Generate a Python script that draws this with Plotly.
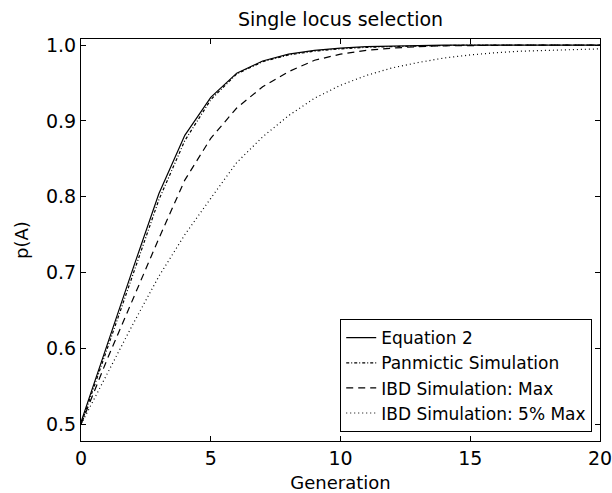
import plotly.graph_objects as go

generations = list(range(21))
equation2 = [0.503, 0.605, 0.705, 0.804, 0.881, 0.931, 0.963, 0.979, 0.988, 0.993,
             0.996, 0.998, 0.999, 0.9995, 1.0, 1.0, 1.0, 1.0, 1.0, 1.0, 1.0]
panmictic = [0.5, 0.598, 0.697, 0.796, 0.874, 0.928, 0.962, 0.978, 0.987, 0.992,
             0.995, 0.997, 0.998, 0.999, 0.9995, 1.0, 1.0, 1.0, 1.0, 1.0, 1.0]
ibd_max = [0.5, 0.585, 0.665, 0.745, 0.822, 0.877, 0.917, 0.945, 0.965, 0.980,
           0.988, 0.993, 0.996, 0.998, 0.999, 0.9995, 1.0, 1.0, 1.0, 1.0, 1.0]
ibd_5pct = [0.5, 0.567, 0.632, 0.695, 0.750, 0.798, 0.845, 0.879, 0.907, 0.930,
            0.947, 0.960, 0.970, 0.977, 0.983, 0.987, 0.990, 0.992, 0.993, 0.994, 0.995]

series_names = ["Equation 2", "Panmictic Simulation", "IBD Simulation: Max", "IBD Simulation: 5% Max"]
series_values = [equation2, panmictic, ibd_max, ibd_5pct]
dash_styles = ["solid", "3px,2px,1px,2px", "7px,5px", "1px,3px"]

xticks = [0, 5, 10, 15, 20]
yticks = [0.5, 0.6, 0.7, 0.8, 0.9, 1.0]
ytick_labels = ["0.5", "0.6", "0.7", "0.8", "0.9", "1.0"]

FONT = "DejaVu Sans"

fig = go.Figure()
for name, vals, dash in zip(series_names, series_values, dash_styles):
    fig.add_trace(go.Scatter(
        x=generations, y=vals, mode="lines", name=name,
        line=dict(color="black", width=1.2, dash=dash),
    ))

axis_common = dict(
    showline=True, linecolor="black", linewidth=1, mirror="ticks",
    ticks="inside", ticklen=5, tickcolor="black", tickwidth=1,
    showgrid=False, zeroline=False, automargin=False,
    ticklabeloverflow="allow",
    tickfont=dict(family=FONT, size=19, color="black"),
)

fig.update_layout(
    width=612, height=493,
    margin=dict(l=81, r=12, t=39, b=52),
    paper_bgcolor="white", plot_bgcolor="white",
    font=dict(family=FONT, size=18, color="black"),
    title=dict(text="Single locus selection", x=0.5, xref="paper", xanchor="center",
               y=1 - 19 / 493, yanchor="middle",
               font=dict(family=FONT, size=19, color="black")),
    xaxis=dict(range=[0, 20], tickvals=xticks, ticktext=[str(v) for v in xticks],
               title=dict(text="Generation", standoff=10,
                          font=dict(family=FONT, size=18, color="black")),
               **axis_common),
    yaxis=dict(range=[0.478, 1.008], tickvals=yticks, ticktext=ytick_labels,
               title=dict(text="p(A)", standoff=12,
                          font=dict(family=FONT, size=18, color="black")),
               **axis_common),
    legend=dict(x=0.985, xanchor="right", y=0.022, yanchor="bottom",
                bgcolor="white", bordercolor="black", borderwidth=1,
                font=dict(family=FONT, size=17, color="black")),
    showlegend=True,
)

fig.write_html(
    "out.html",
    config={"displayModeBar": False},
    post_script="document.body.style.margin='0';document.body.style.overflow='hidden';",
)
